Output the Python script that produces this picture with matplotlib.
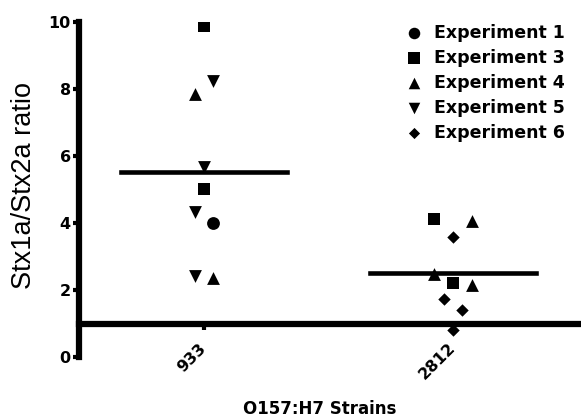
import matplotlib
matplotlib.use('Agg')
import matplotlib.pyplot as plt
import numpy as np

strains = ['933', '2812']

# values per experiment, per strain
# spread = sideways slot of each dot in the column
exp1_933 = [4.01]
exp1_933_spread = [1]
exp3_933 = [9.89, 5.01]
exp3_933_spread = [0, 0]
exp4_933 = [7.85, 2.37]
exp4_933_spread = [-1, 1]
exp5_933 = [8.24, 5.68, 4.34, 2.43]
exp5_933_spread = [1, 0, -1, -1]

exp3_2812 = [4.12, 2.20]
exp3_2812_spread = [-2, 0]
exp4_2812 = [4.07, 2.48, 2.15]
exp4_2812_spread = [2, -2, 2]
exp6_2812 = [3.57, 1.72, 1.40, 0.81]
exp6_2812_spread = [0, -1, 1, 0]

fig = plt.figure(figsize=(5.81, 4.19), dpi=100)
ax = fig.add_axes([79/581, 1 - 357/419, 1 - 79/581, (357 - 22)/419])

step = 0.038
ms = 85

def dots(pos, vals, spread, marker, label=None, s=ms):
    xs = [pos + k*step for k in spread]
    ax.scatter(xs, vals, marker=marker, s=s, color='black', linewidths=0,
               zorder=3, label=label)

dots(1, exp1_933, exp1_933_spread, 'o', 'Experiment 1')
dots(1, exp3_933, exp3_933_spread, 's', 'Experiment 3')
dots(1, exp4_933, exp4_933_spread, '^', 'Experiment 4')
dots(1, exp5_933, exp5_933_spread, 'v', 'Experiment 5')
dots(2, exp6_2812, exp6_2812_spread, 'D', 'Experiment 6', s=40)
dots(2, exp3_2812, exp3_2812_spread, 's')
dots(2, exp4_2812, exp4_2812_spread, '^')

mean933 = np.mean(exp1_933 + exp3_933 + exp4_933 + exp5_933)
mean2812 = np.mean(exp3_2812 + exp4_2812 + exp6_2812)
ax.plot([1 - 0.333, 1 + 0.333], [mean933, mean933], color='black', lw=3.3, zorder=4)
ax.plot([2 - 0.333, 2 + 0.333], [mean2812, mean2812], color='black', lw=3.3, zorder=4)

ax.set_xlim(0.498, 2.514)
ax.set_ylim(0, 10)

ax.spines['top'].set_visible(False)
ax.spines['right'].set_visible(False)
ax.spines['bottom'].set_position(('data', 1))
ax.spines['left'].set_linewidth(4.5)
ax.spines['bottom'].set_linewidth(4.5)
ax.spines['left'].set_bounds(0, 10)
ax.set_facecolor('none')

ax.set_yticks([0, 2, 4, 6, 8, 10])
ax.set_xticks([1, 2])
ax.set_xticklabels(strains, rotation=45, ha='right', va='center',
                   rotation_mode='anchor', fontsize=11.5, fontweight='bold')
for t in ax.get_yticklabels():
    t.set_fontweight('bold')
    t.set_fontsize(11.5)
ax.tick_params(axis='y', width=3, length=4, pad=2)
ax.tick_params(axis='x', width=3, length=4, pad=12)

ax.set_ylabel('Stx1a/Stx2a ratio', fontsize=19.5, family='Liberation Sans')
ax.yaxis.set_label_coords(-0.084, 0.513)
fig.text(320/581, 1 - 409/419, 'O157:H7 Strains', fontsize=12, fontweight='bold',
         ha='center', va='center')

ax.legend(loc='upper right', bbox_to_anchor=(565/581, 1 - 24/419),
          bbox_transform=fig.transFigure, frameon=False, borderpad=0,
          borderaxespad=0, handletextpad=0.65, labelspacing=0.4,
          handlelength=1.0, markerscale=0.9,
          prop={'weight': 'bold', 'size': 12.5})

fig.savefig('out.png', dpi=100)
